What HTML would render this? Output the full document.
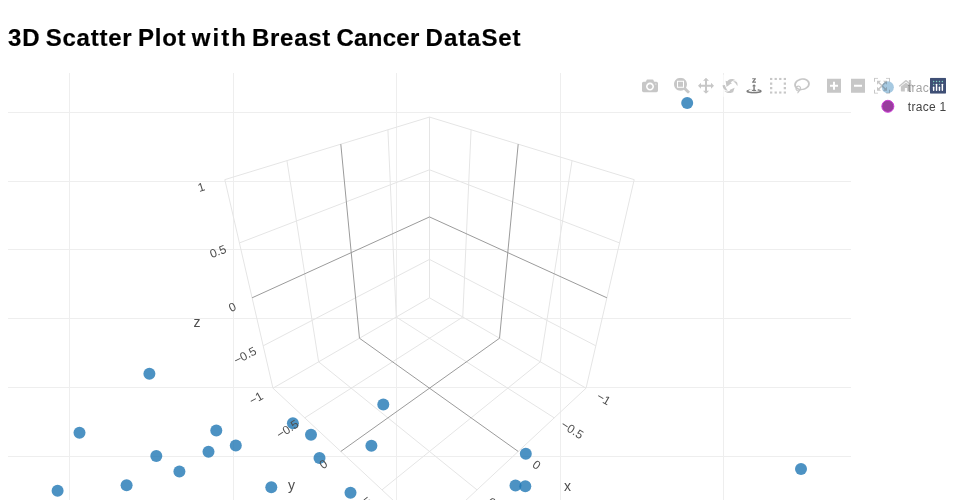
<!DOCTYPE html>
<html lang="en"><head><meta charset="utf-8"><title>3D Scatter Plot with Breast Cancer DataSet</title>
<style>
html,body{margin:0;padding:0;background:#fff;overflow:hidden}
body{font-family:"Liberation Sans", sans-serif;color:#000;width:960px;height:500px;position:relative}
h2{position:absolute;left:0;top:20.9px;margin:0;font-size:24px;font-weight:bold;line-height:33px;white-space:nowrap;width:540px;height:33px;-webkit-text-stroke:0.2px #000}
h2 span{position:absolute;top:0}
#plot{position:absolute;left:0;top:0;width:960px;height:500px}
svg text{font-family:"Liberation Sans", sans-serif}
</style></head><body>
<h2><span style="left:8.00px;letter-spacing:0.810px">3D</span> <span style="left:45.72px;letter-spacing:0.765px">Scatter</span> <span style="left:137.92px;letter-spacing:0.787px">Plot</span> <span style="left:191.83px;letter-spacing:2.020px">with</span> <span style="left:252.12px;letter-spacing:0.666px">Breast</span> <span style="left:336.41px;letter-spacing:0.318px">Cancer</span> <span style="left:425.61px;letter-spacing:0.940px">DataSet</span></h2>
<svg id="plot" width="960" height="500" viewBox="0 0 960 500">
<g shape-rendering="crispEdges" fill="#eeeeee">
<rect x="69" y="73" width="1" height="427"/>
<rect x="233" y="73" width="1" height="427"/>
<rect x="396" y="73" width="1" height="427"/>
<rect x="560" y="73" width="1" height="427"/>
<rect x="723" y="73" width="1" height="427"/>
<rect x="8" y="112" width="843" height="1"/>
<rect x="8" y="181" width="843" height="1"/>
<rect x="8" y="249" width="843" height="1"/>
<rect x="8" y="318" width="843" height="1"/>
<rect x="8" y="387" width="843" height="1"/>
<rect x="8" y="456" width="843" height="1"/>
</g>
<g fill="rgb(31,119,180)" fill-opacity="0.8">
<circle cx="687.2" cy="103.0" r="6"/>
<circle cx="149.4" cy="373.7" r="6"/>
<circle cx="79.5" cy="432.8" r="6"/>
<circle cx="216.3" cy="430.4" r="6"/>
<circle cx="235.8" cy="445.4" r="6"/>
<circle cx="208.5" cy="451.7" r="6"/>
<circle cx="156.3" cy="455.9" r="6"/>
<circle cx="179.4" cy="471.5" r="6"/>
<circle cx="126.6" cy="485.3" r="6"/>
<circle cx="57.6" cy="490.7" r="6"/>
<circle cx="292.9" cy="423.2" r="6"/>
<circle cx="311.0" cy="434.7" r="6"/>
<circle cx="319.5" cy="458.0" r="6"/>
<circle cx="271.3" cy="487.3" r="6"/>
<circle cx="350.5" cy="492.8" r="6"/>
<circle cx="371.4" cy="445.8" r="6"/>
<circle cx="383.3" cy="404.4" r="6"/>
<circle cx="525.8" cy="453.7" r="6"/>
<circle cx="515.5" cy="485.6" r="6"/>
<circle cx="525.3" cy="486.2" r="6"/>
<circle cx="801.0" cy="469.0" r="6"/>
</g>
<clipPath id="sc"><rect x="8" y="72.8" width="843" height="450"/></clipPath>
<g clip-path="url(#sc)" fill="none" stroke-width="1">
<path stroke="#e5e5e5" d="M429.50,297.81L586.04,388.19M429.50,297.81L272.96,388.19M429.50,297.81L429.50,117.06M396.24,317.02L554.24,417.84M462.76,317.02L304.76,417.84M396.24,317.02L387.92,129.77M462.76,317.02L471.08,129.77M429.50,259.40L263.18,345.82M429.50,259.40L595.82,345.82M318.62,361.83L477.02,489.86M540.38,361.83L381.98,489.86M318.62,361.83L286.94,160.63M540.38,361.83L572.06,160.63M429.50,169.78L239.42,242.94M429.50,169.78L619.58,242.94M272.96,388.19L429.50,534.18M586.04,388.19L429.50,534.18M272.96,388.19L224.80,179.63M586.04,388.19L634.20,179.63M429.50,117.06L224.80,179.63M429.50,117.06L634.20,179.63"/>
<path stroke="#9b9b9b" d="M359.47,338.24L518.20,451.45M499.53,338.24L340.80,451.45M359.47,338.24L340.80,144.17M499.53,338.24L518.20,144.17M429.50,216.95L252.09,297.81M429.50,216.95L606.91,297.81"/>
</g>
<g clip-path="url(#sc)" fill="rgb(78,78,78)">
<text transform="translate(255.99,397.99) rotate(-30.0)" font-size="12" text-anchor="middle" dy="0.36em">−1</text>
<text transform="translate(244.91,355.32) rotate(-27.5)" font-size="12" text-anchor="middle" dy="0.36em">−0.5</text>
<text transform="translate(232.31,306.83) rotate(-24.5)" font-size="12" text-anchor="middle" dy="0.36em">0</text>
<text transform="translate(217.87,251.23) rotate(-21.1)" font-size="12" text-anchor="middle" dy="0.36em">0.5</text>
<text transform="translate(201.15,186.86) rotate(-17.0)" font-size="12" text-anchor="middle" dy="0.36em">1</text>
<text transform="translate(287.40,428.92) rotate(-32.5)" font-size="12" text-anchor="middle" dy="0.36em">−0.5</text>
<text transform="translate(323.10,464.07) rotate(-35.5)" font-size="12" text-anchor="middle" dy="0.36em">0</text>
<text transform="translate(364.02,504.38) rotate(-38.9)" font-size="12" text-anchor="middle" dy="0.36em">0.5</text>
<text transform="translate(411.42,551.05) rotate(-43.0)" font-size="12" text-anchor="middle" dy="0.36em">1</text>
<text transform="translate(603.82,398.45) rotate(30.0)" font-size="12" text-anchor="middle" dy="0.36em">−1</text>
<text transform="translate(572.42,429.45) rotate(32.5)" font-size="12" text-anchor="middle" dy="0.36em">−0.5</text>
<text transform="translate(536.74,464.68) rotate(35.5)" font-size="12" text-anchor="middle" dy="0.36em">0</text>
<text transform="translate(495.83,505.07) rotate(38.9)" font-size="12" text-anchor="middle" dy="0.36em">0.5</text>
<text transform="translate(448.45,551.85) rotate(43.0)" font-size="12" text-anchor="middle" dy="0.36em">1</text>
<text transform="translate(197.03,322.91) rotate(0.0)" font-size="14" text-anchor="middle" dy="0.29em">z</text>
<text transform="translate(291.53,486.59) rotate(0.0)" font-size="14" text-anchor="middle" dy="0.22em">y</text>
<text transform="translate(567.47,486.59) rotate(0.0)" font-size="14" text-anchor="middle" dy="0.32em">x</text>
</g>
<g font-size="12" fill="rgb(68,68,68)">
<circle cx="887.86" cy="87.31" r="6" fill="rgb(31,119,180)" fill-opacity="0.8"/>
<text x="907.86" y="91.99" textLength="38.4" lengthAdjust="spacing">trace 0</text>
<circle cx="887.86" cy="106.31" r="6" fill="rgb(153,61,158)" stroke="rgb(206,62,216)" stroke-width="1"/>
<text x="907.86" y="110.99" textLength="38.3" lengthAdjust="spacing">trace 1</text>
</g>
<g fill="#fff" fill-opacity="0.5">
<rect x="630" y="74.8125" width="288" height="22"/>
<rect x="918" y="74.8125" width="32" height="22"/>
</g>
<svg x="642" y="77.8125" width="16" height="16" viewBox="0 0 1000 1000"><path fill="rgb(68,68,68)" fill-opacity="0.3" transform="matrix(1 0 0 -1 0 850)" d="m500 450c-83 0-150-67-150-150 0-83 67-150 150-150 83 0 150 67 150 150 0 83-67 150-150 150z m400 150h-120c-16 0-34 13-39 29l-31 93c-6 15-23 28-40 28h-340c-16 0-34-13-39-28l-31-94c-6-15-23-28-40-28h-120c-55 0-100-45-100-100v-450c0-55 45-100 100-100h800c55 0 100 45 100 100v450c0 55-45 100-100 100z m-400-550c-138 0-250 112-250 250 0 138 112 250 250 250 138 0 250-112 250-250 0-138-112-250-250-250z m365 380c-19 0-35 16-35 35 0 19 16 35 35 35 19 0 35-16 35-35 0-19-16-35-35-35z"/></svg>
<svg x="674" y="77.8125" width="16" height="16" viewBox="0 0 1000 1000"><path fill="rgb(68,68,68)" fill-opacity="0.3" transform="matrix(1 0 0 -1 0 850)" d="m1000-25l-250 251c40 63 63 138 63 218 0 224-182 406-407 406-224 0-406-182-406-406s183-406 407-406c80 0 155 22 218 62l250-250 125 125z m-812 250l0 438 437 0 0-438-437 0z m62 375l313 0 0-312-313 0 0 312z"/></svg>
<svg x="698" y="77.8125" width="16" height="16" viewBox="0 0 1000 1000"><path fill="rgb(68,68,68)" fill-opacity="0.3" transform="matrix(1 0 0 -1 0 850)" d="m1000 350l-187 188 0-125-250 0 0 250 125 0-188 187-187-187 125 0 0-250-250 0 0 125-188-188 186-187 0 125 252 0 0-250-125 0 187-188 188 188-125 0 0 250 250 0 0-126 187 188z"/></svg>
<svg x="722" y="77.8125" width="16" height="16" viewBox="0 0 1000 1000"><path fill="rgb(68,68,68)" fill-opacity="0.3" transform="matrix(1 0 0 -1 0 850)" d="m922 660c-5 4-9 7-14 11-359 263-580-31-580-31l-102 28 58-400c0 1 1 1 2 2 118 108 351 249 351 249s-62 27-100 42c88 83 222 183 347 122 16-8 30-17 44-27-2 1-4 2-6 4z m36-329c0 0 64 229-88 296-62 27-124 14-175-11 157-78 225-208 249-266 8-19 11-31 11-31 2 5 6 15 11 32-5-13-8-20-8-20z m-775-239c70-31 117-50 198-32-121 80-199 346-199 346l-96-15-58-12c0 0 55-226 155-287z m603 133l-317-139c0 0 4-4 19-14 7-5 24-15 24-15s-177-147-389 4c235-287 536-112 536-112l31-22 100 299-4-1z m-298-153c6-4 14-9 24-15 0 0-17 10-24 15z"/></svg>
<svg x="746" y="77.8125" width="16" height="16" viewBox="0 0 1000 1000"><path fill="rgb(68,68,68)" fill-opacity="0.7" transform="matrix(1 0 0 -1 0 850)" d="m833 5l-17 108v41l-130-65 130-66c0 0 0 38 0 39 0-1 36-14 39-25 4-15-6-22-16-30-15-12-39-16-56-20-90-22-187-23-279-23-261 0-341 34-353 59 3 60 228 110 228 110-140-8-351-35-351-116 0-120 293-142 474-142 155 0 477 22 477 142 0 50-74 79-163 96z m-374 94c-58-5-99-21-99-40 0-24 65-43 144-43 79 0 143 19 143 43 0 19-42 34-98 40v216h87l-132 135-133-135h88v-216z m167 515h-136v1c16 16 31 34 46 52l84 109v54h-230v-71h124v-1c-16-17-28-32-44-51l-89-114v-51h245v72z"/></svg>
<svg x="770" y="77.8125" width="16" height="16" viewBox="0 0 1000 1000"><path fill="rgb(68,68,68)" fill-opacity="0.3" transform="matrix(1 0 0 -1 0 850)" d="m0 850l0-143 143 0 0 143-143 0z m286 0l0-143 143 0 0 143-143 0z m285 0l0-143 143 0 0 143-143 0z m286 0l0-143 143 0 0 143-143 0z m-857-286l0-143 143 0 0 143-143 0z m857 0l0-143 143 0 0 143-143 0z m-857-285l0-143 143 0 0 143-143 0z m857 0l0-143 143 0 0 143-143 0z m-857-286l0-143 143 0 0 143-143 0z m286 0l0-143 143 0 0 143-143 0z m285 0l0-143 143 0 0 143-143 0z m286 0l0-143 143 0 0 143-143 0z"/></svg>
<svg x="794" y="77.8125" width="16" height="16" viewBox="0 0 1031 1000"><path fill="rgb(68,68,68)" fill-opacity="0.3" transform="matrix(1 0 0 -1 0 850)" d="m1018 538c-36 207-290 336-568 286-277-48-473-256-436-463 10-57 36-108 76-151-13-66 11-137 68-183 34-28 75-41 114-42l-55-70 0 0c-2-1-3-2-4-3-10-14-8-34 5-45 14-11 34-8 45 4 1 1 2 3 2 5l0 0 113 140c16 11 31 24 45 40 4 3 6 7 8 11 48-3 100 0 151 9 278 48 473 255 436 462z m-624-379c-80 14-149 48-197 96 42 42 109 47 156 9 33-26 47-66 41-105z m-187-74c-19 16-33 37-39 60 50-32 109-55 174-68-42-25-95-24-135 8z m360 75c-34-7-69-9-102-8 8 62-16 128-68 170-73 59-175 54-244-5-9 20-16 40-20 61-28 159 121 317 333 354s407-60 434-217c28-159-121-318-333-355z"/></svg>
<svg x="826" y="77.8125" width="16" height="16" viewBox="0 0 875 1000"><path fill="rgb(68,68,68)" fill-opacity="0.3" transform="matrix(1 0 0 -1 0 850)" d="m1 787l0-875 875 0 0 875-875 0z m687-500l-187 0 0-187-125 0 0 187-188 0 0 125 188 0 0 187 125 0 0-187 187 0 0-125z"/></svg>
<svg x="850" y="77.8125" width="16" height="16" viewBox="0 0 875 1000"><path fill="rgb(68,68,68)" fill-opacity="0.3" transform="matrix(1 0 0 -1 0 850)" d="m0 788l0-876 875 0 0 876-875 0z m688-500l-500 0 0 125 500 0 0-125z"/></svg>
<svg x="874" y="77.8125" width="16" height="16" viewBox="0 0 1000 1000"><path fill="rgb(68,68,68)" fill-opacity="0.3" transform="matrix(1 0 0 -1 0 850)" d="m250 850l-187 0-63 0 0-62 0-188 63 0 0 188 187 0 0 62z m688 0l-188 0 0-62 188 0 0-188 62 0 0 188 0 62-62 0z m-875-938l0 188-63 0 0-188 0-62 63 0 187 0 0 62-187 0z m875 188l0-188-188 0 0-62 188 0 62 0 0 62 0 188-62 0z m-125 188l-1 0-93-94-156 156 156 156 92-93 2 0 0 250-250 0 0-2 93-92-156-156-156 156 94 92 0 2-250 0 0-250 0 0 93 93 157-156-157-156-93 94 0 0 0-250 250 0 0 0-94 93 156 157 156-157-93-93 0 0 250 0 0 250z"/></svg>
<svg x="898" y="77.8125" width="16" height="16" viewBox="0 0 928.6 1000"><path fill="rgb(68,68,68)" fill-opacity="0.3" transform="matrix(1 0 0 -1 0 850)" d="m786 296v-267q0-15-11-26t-25-10h-214v214h-143v-214h-214q-15 0-25 10t-11 26v267q0 1 0 2t0 2l321 264 321-264q1-1 1-4z m124 39l-34-41q-5-5-12-6h-2q-7 0-12 3l-386 322-386-322q-7-4-13-4-7 2-12 7l-35 41q-4 5-3 13t6 12l401 334q18 15 42 15t43-15l136-114v109q0 8 5 13t13 5h107q8 0 13-5t5-13v-227l122-102q5-5 6-12t-4-13z"/></svg>
<svg x="930" y="77.8125" width="16" height="16" viewBox="0 0 132 132"><rect fill="#3f4f75" width="132" height="132" rx="6" ry="6"/>
<circle fill="#80cfbe" cx="78" cy="54" r="6"/>
<circle fill="#80cfbe" cx="102" cy="30" r="6"/>
<circle fill="#80cfbe" cx="78" cy="30" r="6"/>
<circle fill="#80cfbe" cx="54" cy="30" r="6"/>
<circle fill="#80cfbe" cx="30" cy="30" r="6"/>
<circle fill="#80cfbe" cx="30" cy="54" r="6"/>
<path fill="#fff" d="M30,72a6,6,0,0,0-6,6v24a6,6,0,0,0,12,0V78A6,6,0,0,0,30,72Z"/>
<path fill="#fff" d="M78,72a6,6,0,0,0-6,6v24a6,6,0,0,0,12,0V78A6,6,0,0,0,78,72Z"/>
<path fill="#fff" d="M54,48a6,6,0,0,0-6,6v48a6,6,0,0,0,12,0V54A6,6,0,0,0,54,48Z"/>
<path fill="#fff" d="M102,48a6,6,0,0,0-6,6v48a6,6,0,0,0,12,0V54A6,6,0,0,0,102,48Z"/>
</svg>
</svg>
</body></html>
